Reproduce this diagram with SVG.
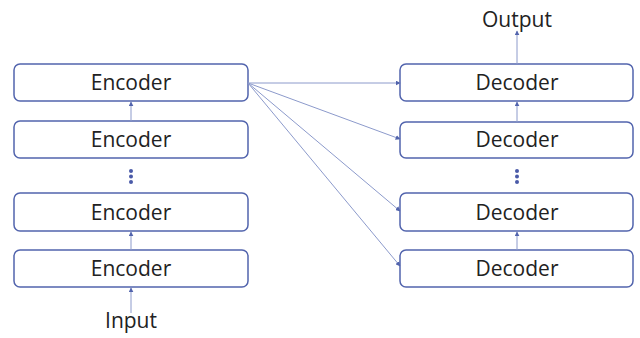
<svg xmlns="http://www.w3.org/2000/svg" width="640" height="338" viewBox="0 0 640 338">
  <defs>
    <style>
      .box { fill: #ffffff; stroke: #5264ad; stroke-width: 1.5; }
      .lbl { font-family: "Open Sans", "Noto Sans", sans-serif; font-size: 21px; fill: #222222; text-anchor: middle; }
      .link { stroke: #8c9acb; stroke-width: 1; fill: none; marker-end: url(#tip); }
      .dot { fill: #4a5aa8; }
    </style>
    <marker id="tip" viewBox="0 0 8 8" refX="7" refY="4" markerWidth="5" markerHeight="5" orient="auto" markerUnits="userSpaceOnUse">
      <path d="M0,0 L8,4 L0,8 z" fill="#5264ad"/>
    </marker>
  </defs>
  <rect width="640" height="338" fill="#ffffff"/>

  <!-- encoder stack -->
  <g id="enc1"><rect class="box" x="14" y="64" width="234" height="37" rx="6"/><text class="lbl" x="131" y="90">Encoder</text></g>
  <g id="enc2"><rect class="box" x="14" y="121" width="234" height="37" rx="6"/><text class="lbl" x="131" y="147">Encoder</text></g>
  <g id="enc3"><rect class="box" x="14" y="193" width="234" height="38" rx="6"/><text class="lbl" x="131" y="220">Encoder</text></g>
  <g id="enc4"><rect class="box" x="14" y="250" width="234" height="37" rx="6"/><text class="lbl" x="131" y="276">Encoder</text></g>
  <g id="enc-dots"><circle class="dot" cx="131" cy="171" r="2"/><circle class="dot" cx="131" cy="176.5" r="2"/><circle class="dot" cx="131" cy="182" r="2"/></g>
  <g id="input"><text class="lbl" x="131" y="328">Input</text></g>

  <!-- decoder stack -->
  <g id="dec1"><rect class="box" x="400" y="64" width="233" height="37" rx="6"/><text class="lbl" x="517" y="90">Decoder</text></g>
  <g id="dec2"><rect class="box" x="400" y="122" width="233" height="36" rx="6"/><text class="lbl" x="517" y="147">Decoder</text></g>
  <g id="dec3"><rect class="box" x="400" y="193" width="233" height="38" rx="6"/><text class="lbl" x="517" y="220">Decoder</text></g>
  <g id="dec4"><rect class="box" x="400" y="250" width="233" height="37" rx="6"/><text class="lbl" x="517" y="276">Decoder</text></g>
  <g id="dec-dots"><circle class="dot" cx="517" cy="171" r="2"/><circle class="dot" cx="517" cy="176.5" r="2"/><circle class="dot" cx="517" cy="182" r="2"/></g>
  <g id="output"><text class="lbl" x="517" y="27">Output</text></g>

  <!-- connectors -->
  <g id="connectors">
    <line class="link" x1="131" y1="313" x2="131" y2="288"/>
    <line class="link" x1="131" y1="250" x2="131" y2="232"/>
    <line class="link" x1="131" y1="121" x2="131" y2="102"/>
    <line class="link" x1="517" y1="250" x2="517" y2="232"/>
    <line class="link" x1="517" y1="122" x2="517" y2="102"/>
    <line class="link" x1="517" y1="64" x2="517" y2="31"/>
    <line class="link" x1="248" y1="83" x2="400" y2="83"/>
    <line class="link" x1="248" y1="83" x2="400" y2="139"/>
    <line class="link" x1="248" y1="83" x2="400" y2="211"/>
    <line class="link" x1="248" y1="83" x2="400" y2="266"/>
  </g>
</svg>
